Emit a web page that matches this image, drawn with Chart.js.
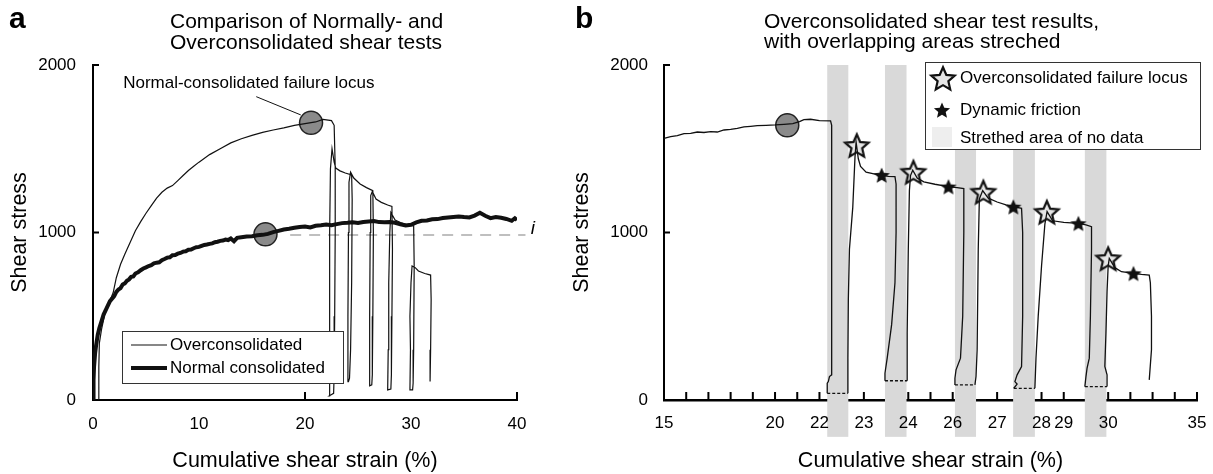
<!DOCTYPE html>
<html>
<head>
<meta charset="utf-8">
<script src="https://cdn.jsdelivr.net/npm/chart.js@4.4.0/dist/chart.umd.min.js"></script>
<style>
  body { margin: 0; background: #fff; }
  #chartA { position: absolute; left: 0; top: 0; }
  #chartB { position: absolute; left: 560px; top: 0; }
</style>
</head>
<body>
<canvas id="chartA" width="560" height="474"></canvas>
<canvas id="chartB" width="653" height="474"></canvas>
<script>
// ---- panel a : strain (%) vs shear stress ----
const ocA = [[0.5,0],[0.55,200],[0.6,340],[0.8,420],[1.1,510],[1.5,580],[1.9,640],[2.2,730],[2.6,810],[3.0,870],
  [3.5,940],[4.0,1010],[4.5,1065],[5.0,1115],[5.5,1160],[6.0,1205],[6.5,1240],[7.0,1265],[7.5,1280],[8.0,1310],
  [8.5,1340],[9.0,1370],[9.5,1395],[10.0,1420],[11.0,1465],[12.0,1500],[13.0,1535],[14.0,1560],[15.0,1580],
  [16.0,1598],[17.0,1612],[18.0,1625],[19.0,1640],[20.0,1650],[21.0,1660],[21.7,1675],[22.5,1668],
  [22.75,1640],[22.85,1390],[22.85,1000],[22.8,500],[22.75,150],[22.7,40],[22.3,25],[22.3,400],[22.35,1000],
  [22.4,1380],[22.55,1500],[22.75,1420],[22.9,1385],[23.3,1368],[23.8,1355],[24.4,1343],
  [24.45,1200],[24.4,700],[24.3,300],[24.2,130],[24.1,110],[24.0,110],[24.05,500],[24.1,1000],[24.15,1300],
  [24.3,1360],[24.6,1325],[25.2,1290],[25.8,1268],[26.4,1250],
  [26.45,1000],[26.4,500],[26.35,150],[26.3,90],[26.1,85],[26.1,500],[26.15,1000],[26.2,1220],[26.35,1245],
  [26.7,1200],[27.2,1180],[27.8,1164],[28.2,1155],
  [28.25,900],[28.2,500],[28.15,150],[28.1,65],[27.8,60],[27.85,300],[27.9,700],[28.0,1000],[28.1,1120],
  [28.5,1075],[29.0,1060],[29.6,1048],[30.25,1040],
  [30.3,800],[30.25,300],[30.2,100],[30.15,60],[29.9,60],[29.95,300],[29.9,500],[30.0,700],[30.1,800],
  [30.4,790],[30.7,770],[31.3,755],[31.85,746],[31.9,600],[31.85,300],[31.8,110]];

const ncA = [[0,0],[0.05,120],[0.1,200],[0.2,280],[0.3,330],[0.45,390],[0.6,430],[0.8,470],[1.0,510],[1.3,550],
  [1.6,590],[2.0,620],[2.2,645],[2.4,660],[2.6,668],[2.8,690],[3.0,696],[3.2,712],[3.4,720],[3.6,735],[3.8,738],
  [4.0,755],[4.25,762],[4.5,775],[4.75,785],[5.0,792],[5.25,800],[5.5,805],[5.75,816],[6.0,820],[6.25,822],
  [6.5,835],[6.75,842],[7.0,850],[7.25,852],[7.5,864],[7.75,866],[8.0,874],[8.25,878],[8.5,886],[8.75,888],
  [9.0,897],[9.25,898],[9.5,906],[9.75,912],[10.0,914],[10.25,920],[10.5,926],[10.75,928],[11.0,932],
  [11.25,935],[11.5,942],[11.75,945],[12.0,950],[12.25,952],[12.5,958],[12.75,955],[13.0,964],[13.3,948],
  [13.6,968],[14.0,972],[14.5,976],[15.0,978],[15.5,983],[16.0,986],[16.5,992],[17.0,1002],[17.5,1010],
  [18.0,1018],[18.5,1022],[19.0,1028],[19.5,1033],[20.0,1036],[20.5,1030],[21.0,1040],[21.5,1043],[22.0,1047],
  [22.5,1044],[23.0,1050],[23.5,1056],[24.0,1058],[24.5,1061],[25.0,1057],[25.5,1063],[26.0,1066],[26.5,1069],
  [27.0,1062],[27.5,1061],[28.0,1063],[28.5,1058],[29.0,1049],[29.5,1042],[30.0,1046],[30.5,1060],[31.0,1070],
  [31.5,1072],[32.0,1079],[32.5,1080],[33.0,1086],[33.5,1090],[34.0,1093],[34.5,1096],[35.0,1092],[35.5,1090],
  [36.0,1101],[36.5,1118],[37.0,1100],[37.5,1086],[38.0,1093],[38.5,1088],[39.0,1081],[39.5,1070],[39.8,1085],
  [40.0,1075]];

const circlesA = [[20.57,1655],[16.27,989]];
const iLineA = [[18.6,985],[40.8,985]];
const leaderA = [[15.4,1811],[19.6,1702]];
const xTickMarksA = [20, 40];

// ---- panel b : stretched strain axis (plot units 0..24) ----
const mainB = [[0,1562],[0.3,1572],[0.6,1578],[0.9,1590],[1.2,1592],[1.5,1600],[1.8,1597],[2.1,1602],[2.4,1600],
  [2.7,1612],[3.0,1616],[3.3,1622],[3.6,1630],[3.9,1634],[4.2,1638],[4.6,1640],[5.0,1642],[5.4,1646],[5.8,1650],
  [6.1,1662],[6.3,1674],[6.6,1676],[7.0,1668],[7.5,1666],
  [7.55,1640],[7.55,1000],[7.55,300],[7.55,150],[7.45,140],[7.4,110],[7.35,100],[7.35,40],
  [8.28,40],[8.28,250],[8.3,600],[8.35,900],[8.5,1150],[8.6,1450],[8.65,1540],[8.75,1440],[8.85,1395],
  [9.1,1360],[9.5,1348],[9.8,1343],[10.1,1335],[10.4,1333],
  [10.45,1290],[10.45,1000],[10.4,700],[10.25,450],[10.05,250],[9.95,160],[9.95,115],
  [10.95,115],[10.95,400],[11.0,900],[11.05,1250],[11.1,1340],[11.2,1372],[11.4,1325],[11.7,1302],[12.2,1288],
  [12.8,1274],[13.2,1268],[13.5,1262],
  [13.5,1000],[13.45,500],[13.35,250],[13.15,180],[13.1,130],[13.1,90],
  [14.0,90],[14.05,140],[14.1,300],[14.15,900],[14.2,1200],[14.35,1250],[14.6,1205],[15.0,1182],[15.4,1165],
  [15.73,1154],[16.1,1144],
  [16.15,1000],[16.15,500],[16.1,200],[15.9,150],[15.8,110],[15.9,95],[15.75,70],
  [16.7,70],[16.75,250],[16.85,500],[17.0,800],[17.15,1050],[17.25,1125],[17.5,1070],[18.0,1060],[18.66,1055],
  [19.0,1045],[19.25,1035],
  [19.25,900],[19.2,500],[19.15,250],[19.05,190],[19.0,140],[18.95,80],
  [19.95,80],[19.95,150],[19.85,200],[19.9,400],[19.95,650],[20.0,800],[20.05,846],[20.3,790],[20.6,766],
  [21.14,756],[21.5,750],[21.85,746],
  [21.9,700],[21.95,500],[21.95,300],[21.85,120]];

const failureB = [[8.68,1522],[11.23,1363],[14.38,1244],[17.24,1124],[20.0,846]];
const dynamicB = [[9.8,1343],[12.81,1274],[15.73,1154],[18.66,1055],[21.14,756]];
const circleB = [[5.55,1640]];

const bandStart = [7.35, 9.95, 13.1, 15.72, 18.95];
const bandEnd = [8.3, 10.92, 14.05, 16.7, 19.92];
const bandTop = 2000, bandBottom = -220;

const bTickPos = [0, 5, 7, 9, 11, 13, 15, 17, 18, 20, 24];
const bTickText = ['15', '20', '22', '23', '24', '26', '27', '28', '29', '30', '35'];
const bTickMarks = [1,2,3,4,5,6,7,8,9,10,11,12,13,14,15,16,17,18,19,20,21,22,23,24];

const titleA = ['Comparison of Normally- and', 'Overconsolidated shear tests'];
const titleB = ['Overconsolidated shear test results,', 'with overlapping areas streched'];

const FONT = '"Liberation Sans", Arial, sans-serif';
Chart.defaults.font.family = FONT;
Chart.defaults.color = '#000';

const toXY = arr => arr.map(([x, y]) => ({x, y}));

function makeStar(size, fill, stroke, lw) {
  const c = document.createElement('canvas');
  c.width = c.height = size;
  const g = c.getContext('2d');
  const cx = size / 2, cy = size / 2 + size * 0.05;
  const R = size / 2 - lw - 0.5, r = R * 0.46;
  g.beginPath();
  for (let i = 0; i < 10; i++) {
    const a = -Math.PI / 2 + i * Math.PI / 5;
    const rr = i % 2 ? r : R;
    g.lineTo(cx + rr * Math.cos(a), cy + rr * Math.sin(a));
  }
  g.closePath();
  g.fillStyle = fill;
  g.fill();
  if (lw) { g.lineWidth = lw; g.strokeStyle = stroke; g.lineJoin = 'miter'; g.stroke(); }
  return c;
}
const openStar = makeStar(30, '#e6e6e6', '#111', 2.2);
const blackStar = makeStar(18, '#111', '#111', 0);

function lineSet(data, width, extra) {
  return Object.assign({
    data: toXY(data), showLine: true, borderColor: '#111', borderWidth: width,
    pointRadius: 0, tension: 0, fill: false
  }, extra || {});
}

function axisTitle(text, pad) {
  return { display: true, text: text, font: { size: 21.5 }, padding: pad };
}

// inward tick marks
function drawTicks(chart, xMarks, yLen, xLen) {
  const {ctx, scales: {x, y}} = chart;
  ctx.save();
  ctx.strokeStyle = '#000';
  ctx.lineWidth = 2;
  ctx.beginPath();
  y.ticks.forEach(t => {
    const py = y.getPixelForValue(t.value);
    ctx.moveTo(x.left, py); ctx.lineTo(x.left + yLen, py);
  });
  xMarks.forEach(v => {
    const px = x.getPixelForValue(v);
    ctx.moveTo(px, y.bottom); ctx.lineTo(px, y.bottom - xLen);
  });
  ctx.stroke();
  ctx.restore();
}

function text(ctx, s, x, y, font, align) {
  ctx.font = font;
  ctx.textAlign = align || 'left';
  ctx.textBaseline = 'middle';
  ctx.fillStyle = '#000';
  ctx.fillText(s, x, y);
}

const extrasA = {
  id: 'extrasA',
  beforeDatasetsDraw(chart) { drawTicks(chart, xTickMarksA, 6, 8); },
  afterDraw(chart) {
    const {ctx, scales: {x, y}} = chart;
    ctx.save();
    text(ctx, 'a', 9, 20, 'bold 30px ' + FONT);
    text(ctx, titleA[0], 170, 22, '21px ' + FONT);
    text(ctx, titleA[1], 170, 43, '21px ' + FONT);
    text(ctx, 'Normal-consolidated failure locus', x.getPixelForValue(14.7), y.getPixelForValue(1893), '17px ' + FONT, 'center');
    text(ctx, 'i', x.getPixelForValue(41.5), y.getPixelForValue(1020), 'italic 19px ' + FONT, 'center');
    // legend
    ctx.fillStyle = '#fff';
    ctx.fillRect(122, 331, 222, 53);
    ctx.strokeStyle = '#333'; ctx.lineWidth = 1;
    ctx.strokeRect(122.5, 331.5, 221, 52);
    ctx.strokeStyle = '#111';
    ctx.lineWidth = 1.2;
    ctx.beginPath(); ctx.moveTo(131, 345); ctx.lineTo(167, 345); ctx.stroke();
    ctx.lineWidth = 4;
    ctx.beginPath(); ctx.moveTo(131, 368); ctx.lineTo(167, 368); ctx.stroke();
    text(ctx, 'Overconsolidated', 170, 345, '17px ' + FONT);
    text(ctx, 'Normal consolidated', 170, 368, '17px ' + FONT);
    ctx.restore();
  }
};

const extrasB = {
  id: 'extrasB',
  beforeDatasetsDraw(chart) {
    const {ctx, scales: {x, y}} = chart;
    drawTicks(chart, bTickMarks, 6, 8);
    ctx.save();
    ctx.fillStyle = '#d9d9d9';
    bandStart.forEach((s, i) => {
      const x0 = x.getPixelForValue(s), x1 = x.getPixelForValue(bandEnd[i]);
      const y0 = y.getPixelForValue(bandTop), y1 = y.getPixelForValue(bandBottom);
      ctx.fillRect(x0, y0, x1 - x0, y1 - y0);
    });
    bTickPos.forEach((p, i) => text(ctx, bTickText[i], x.getPixelForValue(p), 423, '17px ' + FONT, 'center'));
    ctx.restore();
  },
  afterDraw(chart) {
    const {ctx} = chart;
    ctx.save();
    text(ctx, 'b', 15, 20, 'bold 30px ' + FONT);
    text(ctx, titleB[0], 204, 22, '21px ' + FONT);
    text(ctx, titleB[1], 204, 42, '21px ' + FONT);
    // legend
    ctx.fillStyle = '#fff';
    ctx.fillRect(365, 62, 275, 87);
    ctx.strokeStyle = '#333'; ctx.lineWidth = 1;
    ctx.strokeRect(365.5, 62.5, 275, 87);
    ctx.drawImage(openStar, 383 - 15, 78 - 15);
    ctx.drawImage(blackStar, 382 - 9, 110 - 9);
    ctx.fillStyle = '#eeeeee';
    ctx.fillRect(372, 127, 20, 20);
    text(ctx, 'Overconsolidated failure locus', 400, 78, '17px ' + FONT);
    text(ctx, 'Dynamic friction', 400, 110, '17px ' + FONT);
    text(ctx, 'Strethed area of no data', 400, 138, '17px ' + FONT);
    ctx.restore();
  }
};

const plainTick = v => String(v);

new Chart(document.getElementById('chartA'), {
  type: 'scatter',
  data: {
    datasets: [
      { data: toXY(circlesA), pointRadius: 11.5, pointBackgroundColor: '#8a8a8a', pointBorderColor: '#222',
        pointBorderWidth: 1.5, order: 5 },
      lineSet(iLineA, 1.5, { borderColor: '#aaaaaa', borderDash: [11, 8], clip: false, order: 4 }),
      lineSet(ncA, 4, { order: 3 }),
      lineSet(ocA, 1.2, { order: 2 }),
      lineSet(leaderA, 1, { order: 1 })
    ]
  },
  options: {
    responsive: false, devicePixelRatio: 1, animation: false,
    layout: { padding: { left: 0, top: 65, right: 43, bottom: 0 } },
    plugins: { legend: { display: false }, tooltip: { enabled: false } },
    scales: {
      x: {
        min: 0, max: 40,
        grid: { display: false, drawTicks: false },
        border: { display: true, color: '#000', width: 2 },
        ticks: { stepSize: 10, padding: 14, font: { size: 17 }, callback: plainTick },
        title: axisTitle('Cumulative shear strain (%)', { top: 0, bottom: 0 }),
        afterFit: s => { s.height = 74; }
      },
      y: {
        min: 0, max: 2000,
        grid: { display: false, drawTicks: false },
        border: { display: true, color: '#000', width: 2 },
        ticks: { stepSize: 1000, padding: 17, font: { size: 17 }, callback: plainTick },
        title: axisTitle('Shear stress', { top: 7, bottom: 0 }),
        afterFit: s => { s.width = 93; }
      }
    }
  },
  plugins: [extrasA]
});

new Chart(document.getElementById('chartB'), {
  type: 'scatter',
  data: {
    datasets: [
      { data: toXY(circleB), pointRadius: 11.5, pointBackgroundColor: '#8a8a8a', pointBorderColor: '#222',
        pointBorderWidth: 1.5, order: 5 },
      { data: toXY(failureB), pointStyle: openStar, pointRadius: 10, order: 4 },
      lineSet(mainB, 1.3, {
        order: 3,
        segment: {
          borderDash: c => (c.p0.parsed.y === c.p1.parsed.y && c.p0.parsed.y < 200) ? [3, 2] : undefined
        }
      }),
      { data: toXY(dynamicB), pointStyle: blackStar, pointRadius: 8, order: 1 }
    ]
  },
  options: {
    responsive: false, devicePixelRatio: 1, animation: false,
    layout: { padding: { left: 0, top: 65, right: 16, bottom: 0 } },
    plugins: { legend: { display: false }, tooltip: { enabled: false } },
    scales: {
      x: {
        min: 0, max: 24,
        grid: { display: false, drawTicks: false },
        border: { display: true, color: '#000', width: 2.5 },
        ticks: { display: false },
        title: axisTitle('Cumulative shear strain (%)', { top: 0, bottom: 0 }),
        afterFit: s => { s.height = 74; }
      },
      y: {
        min: 0, max: 2000,
        grid: { display: false, drawTicks: false },
        border: { display: true, color: '#000', width: 2 },
        ticks: { stepSize: 1000, padding: 16, font: { size: 17 }, callback: plainTick },
        title: axisTitle('Shear stress', { top: 9, bottom: 0 }),
        afterFit: s => { s.width = 104; }
      }
    }
  },
  plugins: [extrasB]
});
</script>
</body>
</html>
